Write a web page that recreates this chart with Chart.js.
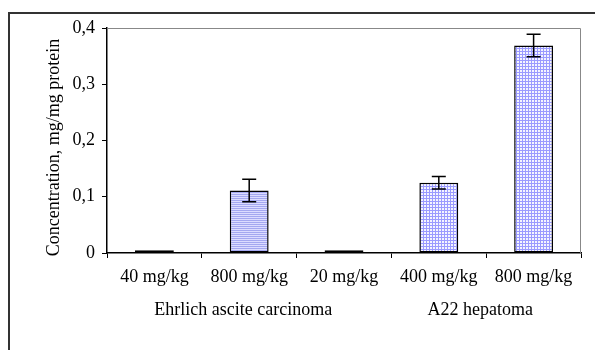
<!DOCTYPE html>
<html>
<head>
<meta charset="utf-8">
<script src="https://cdn.jsdelivr.net/npm/chart.js@4/dist/chart.umd.min.js"></script>
<style>
  body { margin: 0; background: #fff; }
  #wrap { position: relative; width: 595px; height: 350px; overflow: hidden; }
  #frame { position: absolute; left: 8px; top: 12px; width: 700px; height: 400px;
           border-top: 2px solid #333; border-left: 2px solid #333; }
  canvas { position: absolute; left: 0; top: 0; }
</style>
</head>
<body>
<div id="wrap">
  <div id="frame"></div>
  <canvas id="chart" width="595" height="350"></canvas>
</div>
<script>
// Data
const doses = ['40 mg/kg', '800 mg/kg', '20 mg/kg', '400 mg/kg', '800 mg/kg'];
const concentration = [0.005, 0.111, 0.005, 0.125, 0.369];
const errors = [0, 0.02, 0, 0.011, 0.02];
const tumours = ['Ehrlich ascite carcinoma', 'A22 hepatoma'];
// first and last category index each tumour label is centred under
const tumourSpan = [[0, 2], [3, 4]];
const yTicks = [0, 0.1, 0.2, 0.3, 0.4];
const yTitle = 'Concentration, mg/mg protein';

const FONT = 'Liberation Serif';
const SIZE = 18;

// Fill patterns: horizontal stripes for the first group, small checks for the second
function stripes() {
    let c = document.createElement('canvas');
    c.width = 4; c.height = 2;
    let g = c.getContext('2d');
    g.fillStyle = '#dcdcff'; g.fillRect(0, 0, 4, 2);
    g.fillStyle = '#a4a8f0'; g.fillRect(0, 0, 4, 1);
    return g.createPattern(c, 'repeat');
}
function checks() {
    let c = document.createElement('canvas');
    c.width = 3; c.height = 3;
    let g = c.getContext('2d');
    g.fillStyle = '#f4f4ff'; g.fillRect(0, 0, 3, 3);
    g.fillStyle = '#9a9aff'; g.fillRect(0, 0, 3, 1); g.fillRect(0, 0, 1, 3);
    return g.createPattern(c, 'repeat');
}
const hPat = stripes();
const gPat = checks();
const fills = [hPat, hPat, hPat, gPat, gPat];

// Error bars, gray top/right plot border, axis title and group labels
const extras = {
    id: 'extras',
    afterDatasetsDraw(chart) {
        let ctx = chart.ctx;
        let y = chart.scales.y;
        let a = chart.chartArea;
        ctx.save();
        // plot area border (top, right)
        ctx.strokeStyle = '#888';
        ctx.lineWidth = 1;
        ctx.beginPath();
        ctx.moveTo(a.left, a.top + 0.5);
        ctx.lineTo(a.right - 0.5, a.top + 0.5);
        ctx.lineTo(a.right - 0.5, a.bottom);
        ctx.stroke();
        // error bars
        ctx.strokeStyle = '#000';
        ctx.lineWidth = 1.5;
        let meta = chart.getDatasetMeta(0);
        meta.data.forEach((bar, i) => {
            if (!errors[i]) return;
            let top = y.getPixelForValue(concentration[i] + errors[i]);
            let bot = y.getPixelForValue(concentration[i] - errors[i]);
            ctx.beginPath();
            ctx.moveTo(bar.x, top); ctx.lineTo(bar.x, bot);
            ctx.moveTo(bar.x - 7, top); ctx.lineTo(bar.x + 7, top);
            ctx.moveTo(bar.x - 7, bot); ctx.lineTo(bar.x + 7, bot);
            ctx.stroke();
        });
        ctx.fillStyle = '#000';
        ctx.font = SIZE + 'px "' + FONT + '"';
        ctx.textAlign = 'center';
        ctx.textBaseline = 'alphabetic';
        // y axis title, sits a bit below the middle of the axis like the original
        ctx.save();
        ctx.translate(59, (a.top + a.bottom) / 2 + 7);
        ctx.rotate(-Math.PI / 2);
        ctx.fillText(yTitle, 0, 0);
        ctx.restore();
        // group labels under the dose labels
        let x = chart.scales.x;
        tumours.forEach((t, i) => {
            let cx = (x.getPixelForValue(tumourSpan[i][0]) + x.getPixelForValue(tumourSpan[i][1])) / 2;
            ctx.fillText(t, cx - 6, 315);
        });
        ctx.restore();
    }
};

new Chart(document.getElementById('chart'), {
    type: 'bar',
    data: {
        labels: doses,
        datasets: [{
            data: concentration,
            backgroundColor: fills,
            borderColor: '#000',
            borderWidth: 1.5,
            borderSkipped: false,
            categoryPercentage: 1,
            barPercentage: 0.41
        }]
    },
    options: {
        responsive: false,
        animation: false,
        devicePixelRatio: 1,
        layout: { padding: { left: 0, top: 28, right: 14, bottom: 0 } },
        plugins: { legend: { display: false }, tooltip: { enabled: false } },
        scales: {
            x: {
                grid: { offset: true, drawOnChartArea: false, tickLength: 5, color: '#000', tickColor: '#000' },
                border: { color: '#000', width: 1.5 },
                ticks: { color: '#000', font: { family: FONT, size: SIZE }, padding: 8, maxRotation: 0 },
                afterFit(s) { s.height = 97; }
            },
            y: {
                min: 0, max: 0.4,
                afterBuildTicks(s) { s.ticks = yTicks.map(v => ({ value: v })); },
                grid: { drawOnChartArea: false, tickLength: 5, tickColor: '#000' },
                border: { color: '#000', width: 1.5 },
                ticks: {
                    color: '#000', font: { family: FONT, size: SIZE }, padding: 7,
                    callback: v => v === 0 ? '0' : v.toFixed(1).replace('.', ',')
                },
                afterFit(s) { s.width = 107; }
            }
        }
    },
    plugins: [extras]
});
</script>
</body>
</html>
